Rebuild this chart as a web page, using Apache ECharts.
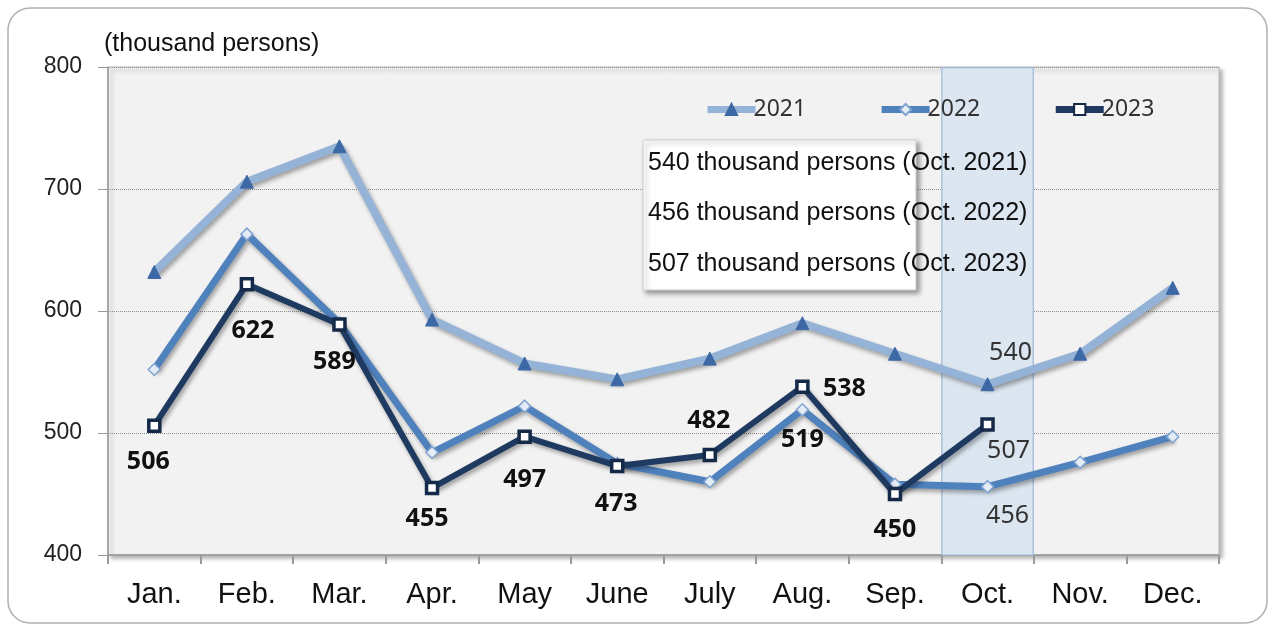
<!DOCTYPE html>
<html>
<head>
<meta charset="utf-8">
<script src="https://cdn.jsdelivr.net/npm/echarts@6/dist/echarts.min.js"></script>
<style>html,body{margin:0;padding:0;background:#fff;}#c{width:1276px;height:629px;}</style>
</head>
<body>
<div id="c"></div>
<script>
var categories = ['Jan.','Feb.','Mar.','Apr.','May','June','July','Aug.','Sep.','Oct.','Nov.','Dec.'];
var values2021 = [632, 706, 735, 593, 557, 544, 561, 590, 565, 540, 565, 619];
var values2022 = [552, 663, 590, 484, 522, 475, 460, 519, 458, 456, 476, 497];
var values2023 = [506, 622, 589, 455, 497, 473, 482, 538, 450, 507, null, null];
var highlightBand = [null, null, null, null, null, null, null, null, null, 800, null, null];
var yTicks = [400, 500, 600, 700, 800];
var annotationLines = ['540 thousand persons (Oct. 2021)', '456 thousand persons (Oct. 2022)', '507 thousand persons (Oct. 2023)'];

// label placement (offset from point centre), separate from values
var labelOffsets2023 = [[-6,36],[6,47],[-5,37],[-5,31],[0,43],[-1,38],[-1,-34],[42,2],[0,36],[21,26],null,null];
var labelOffsets2022 = [null,null,null,null,null,null,null,[0,30],null,[20,29],null,null];
var labelOffsets2021 = [null,null,null,null,null,null,null,null,null,[23,-31],null,null];
var softLabel = {9: true};

function buildData(vals, offs, soft) {
  return vals.map(function (v, i) {
    var o = offs[i];
    if (!o || v == null) return v;
    return {
      value: v,
      label: {
        show: true, position: 'inside', offset: o,
        fontFamily: 'Noto Sans', fontSize: 25,
        fontWeight: soft[i] ? 'normal' : 'bold',
        color: soft[i] ? '#333' : '#111'
      }
    };
  });
}

var lineShadow = { shadowColor: 'rgba(0,0,0,0.35)', shadowBlur: 4, shadowOffsetX: 2, shadowOffsetY: 3 };
var annoText = function (t, y) {
  return { type: 'text', z: 101, x: 648, y: y, silent: true,
    style: { text: t, fontFamily: 'Liberation Sans', fontSize: 25, fill: '#111', verticalAlign: 'middle' } };
};

var chart = echarts.init(document.getElementById('c'));
chart.setOption({
  animation: false,
  backgroundColor: '#fff',
  grid: {
    left: 108, right: 57, top: 67, bottom: 74,
    show: true, backgroundColor: '#F2F2F2', borderColor: '#BDBDBD', borderWidth: 1,
    shadowColor: 'rgba(0,0,0,0.3)', shadowBlur: 4, shadowOffsetX: 3, shadowOffsetY: 3
  },
  legend: {
    data: [
      { name: '2021', lineStyle: { width: 7 } },
      { name: '2022', lineStyle: { width: 7 } },
      { name: '2023', lineStyle: { width: 7 } }
    ],
    left: 699, top: 93, itemWidth: 48, itemHeight: 14, itemGap: 72,
    textStyle: { fontFamily: 'Noto Sans', fontSize: 23, color: '#333', padding: [0,0,0,-7] }
  },
  xAxis: {
    type: 'category', data: categories, boundaryGap: true,
    axisLine: { lineStyle: { color: '#9A9A9A', width: 1.5 } },
    axisTick: { show: true, inside: false, length: 9, lineStyle: { color: '#9A9A9A', width: 2 } },
    axisLabel: { fontFamily: 'Liberation Sans', fontSize: 29, color: '#111', margin: 25 }
  },
  yAxis: {
    type: 'value', min: yTicks[0], max: yTicks[yTicks.length - 1], interval: 100,
    name: '(thousand persons)', nameLocation: 'end', nameGap: 10,
    nameTextStyle: { fontFamily: 'Liberation Sans', fontSize: 25, color: '#111', align: 'left', padding: [0,0,0,-4] },
    axisLine: { show: true, lineStyle: { color: '#9A9A9A', width: 1.5 } },
    axisTick: { show: true, length: 10, lineStyle: { color: '#9A9A9A' } },
    axisLabel: { fontFamily: 'Liberation Sans', fontSize: 23, color: '#222', margin: 26 },
    splitLine: { show: true, lineStyle: { type: 'dotted', color: '#8C8C8C', width: 1 } }
  },
  graphic: [
    { type: 'rect', z: -1, silent: true, shape: { x: 8, y: 8, width: 1259, height: 615, r: 22 },
      style: { fill: 'none', stroke: '#B0B0B0', lineWidth: 1.5 } },
    { type: 'rect', z: 100, silent: true, shape: { x: 643, y: 140, width: 273, height: 150 },
      style: { fill: '#fff', stroke: '#CFCFCF', lineWidth: 1, shadowColor: 'rgba(0,0,0,0.4)', shadowBlur: 5, shadowOffsetX: 3, shadowOffsetY: 3 } },
    annoText(annotationLines[0], 163),
    annoText(annotationLines[1], 213),
    annoText(annotationLines[2], 264)
  ],
  series: [
    {
      name: 'band', type: 'bar', data: highlightBand, barWidth: '100%', z: 0, silent: true,
      itemStyle: { color: '#DCE6F1', borderColor: '#9DB7D9', borderWidth: 1.2 }
    },
    {
      name: '2021', type: 'line', data: buildData(values2021, labelOffsets2021, softLabel), z: 3,
      symbol: 'triangle', symbolSize: 13,
      lineStyle: Object.assign({ color: '#95B3D7', width: 8 }, lineShadow),
      itemStyle: { color: '#3C68A6', borderColor: '#3C68A6', borderWidth: 1 }
    },
    {
      name: '2022', type: 'line', data: buildData(values2022, labelOffsets2022, softLabel), z: 4,
      symbol: 'diamond', symbolSize: 12,
      lineStyle: Object.assign({ color: '#4F81BD', width: 7 }, lineShadow),
      itemStyle: { color: '#E4ECF6', borderColor: '#7FA3D0', borderWidth: 1.5 }
    },
    {
      name: '2023', type: 'line', data: buildData(values2023, labelOffsets2023, softLabel), z: 5,
      symbol: 'rect', symbolSize: 11,
      lineStyle: Object.assign({ color: '#1F3A60', width: 6 }, lineShadow),
      itemStyle: { color: '#FFFFFF', borderColor: '#142A48', borderWidth: 3.5 }
    }
  ]
});
</script>
</body>
</html>
